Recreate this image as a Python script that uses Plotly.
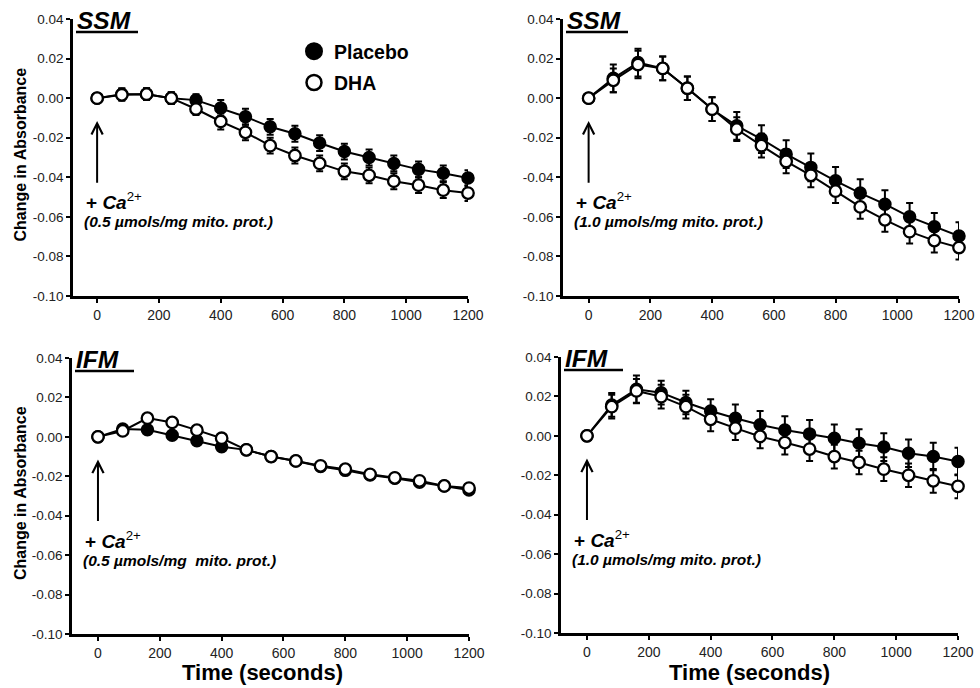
import plotly.graph_objects as go

# ---------------- data ----------------
time_s = [0, 80, 160, 240, 320, 400, 480, 560, 640, 720, 800, 880, 960, 1040, 1120, 1200]

# SSM, 0.5 umol Ca2+
ssm05_placebo = [0.000, 0.002, 0.002, 0.000, -0.001, -0.005, -0.0094, -0.0145, -0.018, -0.0227, -0.027, -0.030, -0.033, -0.036, -0.038, -0.0404]
ssm05_placebo_err = [0.000, 0.003, 0.003, 0.003, 0.003, 0.004, 0.004, 0.004, 0.004, 0.004, 0.004, 0.004, 0.004, 0.004, 0.004, 0.004]
ssm05_dha = [0.000, 0.0017, 0.002, 0.000, -0.0055, -0.0118, -0.0173, -0.024, -0.029, -0.033, -0.037, -0.039, -0.042, -0.044, -0.0465, -0.048]
ssm05_dha_err = [0.000, 0.003, 0.003, 0.003, 0.003, 0.004, 0.004, 0.004, 0.004, 0.004, 0.004, 0.004, 0.004, 0.004, 0.004, 0.004]

# SSM, 1.0 umol Ca2+
ssm10_placebo = [0.000, 0.010, 0.018, 0.015, 0.005, -0.0056, -0.014, -0.0207, -0.0283, -0.035, -0.0418, -0.048, -0.0536, -0.060, -0.065, -0.0697]
ssm10_placebo_err = [0.000, 0.007, 0.007, 0.006, 0.006, 0.006, 0.007, 0.007, 0.007, 0.007, 0.007, 0.007, 0.007, 0.007, 0.007, 0.007]
ssm10_dha = [0.000, 0.009, 0.017, 0.015, 0.005, -0.0056, -0.0157, -0.024, -0.032, -0.039, -0.047, -0.055, -0.0615, -0.0675, -0.072, -0.0755]
ssm10_dha_err = [0.000, 0.006, 0.007, 0.006, 0.006, 0.006, 0.006, 0.006, 0.006, 0.006, 0.006, 0.006, 0.006, 0.006, 0.006, 0.006]

# IFM, 0.5 umol Ca2+
ifm05_placebo = [0.000, 0.004, 0.0036, 0.0008, -0.002, -0.005, -0.0066, -0.010, -0.0122, -0.015, -0.017, -0.0193, -0.021, -0.023, -0.0249, -0.027]
ifm05_placebo_err = [0.000, 0.001, 0.001, 0.001, 0.001, 0.001, 0.001, 0.001, 0.001, 0.001, 0.001, 0.001, 0.001, 0.001, 0.001, 0.001]
ifm05_dha = [0.000, 0.003, 0.0095, 0.0073, 0.0034, -0.0007, -0.0066, -0.010, -0.0122, -0.0147, -0.0164, -0.019, -0.0208, -0.0223, -0.0249, -0.026]
ifm05_dha_err = [0.000, 0.001, 0.001, 0.001, 0.001, 0.001, 0.001, 0.001, 0.001, 0.001, 0.001, 0.001, 0.001, 0.001, 0.001, 0.001]

# IFM, 1.0 umol Ca2+
ifm10_placebo = [0.000, 0.0157, 0.0236, 0.0219, 0.0169, 0.0126, 0.0089, 0.0056, 0.003, 0.001, -0.0012, -0.0037, -0.0057, -0.0088, -0.0105, -0.013]
ifm10_placebo_err = [0.000, 0.006, 0.007, 0.006, 0.006, 0.006, 0.007, 0.007, 0.007, 0.007, 0.007, 0.007, 0.007, 0.007, 0.007, 0.007]
ifm10_dha = [0.000, 0.0148, 0.0228, 0.0199, 0.0148, 0.0084, 0.0039, -0.0003, -0.0034, -0.0067, -0.0105, -0.0135, -0.0169, -0.020, -0.0228, -0.0256]
ifm10_dha_err = [0.000, 0.006, 0.006, 0.006, 0.006, 0.006, 0.006, 0.006, 0.006, 0.006, 0.006, 0.006, 0.006, 0.006, 0.006, 0.006]

panel_titles = ["SSM", "SSM", "IFM", "IFM"]
dose_labels = ["(0.5 µmols/mg mito. prot.)", "(1.0 µmols/mg mito. prot.)",
               "(0.5 µmols/mg  mito. prot.)", "(1.0 µmols/mg mito. prot.)"]
series_names = ["Placebo", "DHA"]
x_tickvals = [0, 200, 400, 600, 800, 1000, 1200]
x_ticktext = ["0", "200", "400", "600", "800", "1000", "1200"]
y_tickvals = [-0.10, -0.08, -0.06, -0.04, -0.02, 0.00, 0.02, 0.04]
y_ticktext = ["-0.10", "-0.08", "-0.06", "-0.04", "-0.02", "0.00", "0.02", "0.04"]
y_title = "Change in Absorbance"
x_title = "Time (seconds)"

# ---------------- layout helpers ----------------
W, H = 980, 688
FONT = "Liberation Sans, Arial, sans-serif"


def px(x):
    return x / W


def py(y):
    return 1 - y / H


panels = [
    (ssm05_placebo, ssm05_placebo_err, ssm05_dha, ssm05_dha_err),
    (ssm10_placebo, ssm10_placebo_err, ssm10_dha, ssm10_dha_err),
    (ifm05_placebo, ifm05_placebo_err, ifm05_dha, ifm05_dha_err),
    (ifm10_placebo, ifm10_placebo_err, ifm10_dha, ifm10_dha_err),
]

# pixel geometry of each panel: x domain, y domain (top, bottom)
xdom = [(73, 468), (563, 959), (72, 469), (561, 958)]
ydom = [(19, 296), (19, 296), (358, 634), (357, 633)]
xranges = [[-78, 1200], [-83, 1200], [-84, 1200], [-84, 1200]]

fig = go.Figure()

for i, (pl, ple, dh, dhe) in enumerate(panels):
    axn = "" if i == 0 else str(i + 1)
    common = dict(mode="lines+markers", cliponaxis=False, showlegend=False,
                  line=dict(color="black", width=2),
                  xaxis="x" + axn, yaxis="y" + axn)
    fig.add_trace(go.Scatter(
        x=time_s, y=pl, name=series_names[0],
        error_y=dict(type="data", array=ple, color="black", thickness=2, width=3.5),
        marker=dict(symbol="circle", size=11.5, color="black",
                    line=dict(color="black", width=2)),
        legendgroup="p", **common))
    fig.add_trace(go.Scatter(
        x=time_s, y=dh, name=series_names[1],
        error_y=dict(type="data", array=dhe, color="black", thickness=2, width=3.5),
        marker=dict(symbol="circle", size=11.5, color="white",
                    line=dict(color="black", width=2.3)),
        legendgroup="d", **common))

# legend entries (marker-only symbols, as in the reference key)
fig.add_trace(go.Scatter(x=[None], y=[None], mode="markers", name=series_names[0],
                         legendgroup="p",
                         marker=dict(symbol="circle", size=16, color="black",
                                     line=dict(color="black", width=2))))
fig.add_trace(go.Scatter(x=[None], y=[None], mode="markers", name=series_names[1],
                         legendgroup="d",
                         marker=dict(symbol="circle", size=15, color="white",
                                     line=dict(color="black", width=2.5))))

axis_common = dict(showline=True, linecolor="black", linewidth=2.5, mirror=False,
                   showgrid=False, zeroline=False, ticks="outside", ticklen=4,
                   tickwidth=2, tickcolor="black", automargin=False)

layout = dict(
    width=W, height=H, margin=dict(l=0, r=0, t=0, b=0),
    paper_bgcolor="white", plot_bgcolor="white",
    font=dict(family=FONT, color="#222"),
    legend=dict(x=px(294), y=py(32), xanchor="left", yanchor="top",
                font=dict(size=19.5, color="black", family=FONT, weight="bold"),
                bgcolor="rgba(0,0,0,0)", tracegroupgap=3, itemsizing="trace"),
)

annotations = []
shapes = []
for i in range(4):
    axn = "" if i == 0 else str(i + 1)
    layout["xaxis" + axn] = dict(
        domain=[px(xdom[i][0]), px(xdom[i][1])], range=xranges[i],
        anchor="y" + axn, tickvals=x_tickvals, ticktext=x_ticktext,
        tickfont=dict(size=14, color="#222", family=FONT), **axis_common)
    layout["yaxis" + axn] = dict(
        domain=[py(ydom[i][1]), py(ydom[i][0])], range=[-0.10, 0.04],
        anchor="x" + axn, tickvals=y_tickvals, ticktext=y_ticktext,
        tickfont=dict(size=13.5, color="#222", family=FONT), **axis_common)

    top = ydom[i][0]
    left = xdom[i][0]
    # panel title (SSM / IFM), bold italic with underline
    annotations.append(dict(
        text="<b><i>" + panel_titles[i] + "</i></b>", xref="paper", yref="paper",
        x=px(left + 2), y=py(top + 1), xanchor="left", yanchor="middle",
        showarrow=False, font=dict(size=24.5, color="black", family=FONT)))
    ul_end = left + (65 if panel_titles[i] == "SSM" else 62)
    shapes.append(dict(type="line", xref="paper", yref="paper",
                       x0=px(left + 3), x1=px(ul_end), y0=py(top + 13), y1=py(top + 13),
                       line=dict(color="black", width=2.5)))

    # Ca2+ addition arrow
    xr = "x" + axn
    yr = "y" + axn
    annotations.append(dict(
        x=0, y=-0.0115, xref=xr, yref=yr, ax=0, ay=-0.0435, axref=xr, ayref=yr,
        showarrow=True, arrowhead=5, arrowsize=1.1, arrowwidth=2, arrowcolor="black",
        text=""))
    annotations.append(dict(
        text="<b>+ <i>Ca</i></b><sup>2+</sup>", xref="paper", yref="paper",
        x=px(left + 11), y=py(top + 182), xanchor="left", yanchor="middle",
        showarrow=False, font=dict(size=19, color="black", family=FONT)))
    annotations.append(dict(
        text="<b><i>" + dose_labels[i] + "</i></b>", xref="paper", yref="paper",
        x=px(left + 9), y=py(top + 202), xanchor="left", yanchor="middle",
        showarrow=False, font=dict(size=15.5, color="black", family=FONT)))

# y axis titles (left column)
for top, bot in [(19, 296), (358, 634)]:
    annotations.append(dict(
        text="<b>" + y_title + "</b>", xref="paper", yref="paper",
        x=px(20), y=py((top + bot) / 2 - 3), xanchor="center", yanchor="middle",
        textangle=-90, showarrow=False,
        font=dict(size=16, color="black", family=FONT)))

# x axis titles (bottom row)
for cx in [262, 749]:
    annotations.append(dict(
        text="<b>" + x_title + "</b>", xref="paper", yref="paper",
        x=px(cx), y=py(672), xanchor="center", yanchor="middle",
        showarrow=False, font=dict(size=22, color="black", family=FONT)))

layout["annotations"] = annotations
layout["shapes"] = shapes
fig.update_layout(**layout)

fig.write_html("out.html", config={"displayModeBar": False},
               post_script="document.body.style.margin='0';document.body.style.padding='0';")
